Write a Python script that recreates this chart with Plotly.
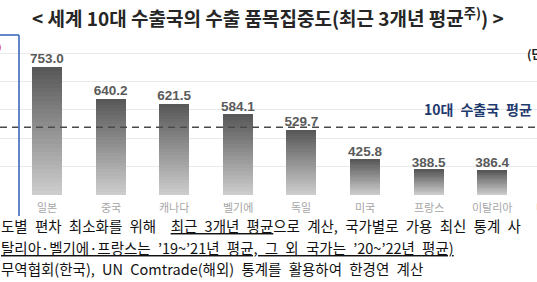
import plotly.graph_objects as go

# ---- data ----
countries = ['일본', '중국', '캐나다', '벨기에', '독일', '미국', '프랑스', '이탈리아']
values = [753.0, 640.2, 621.5, 584.1, 529.7, 425.8, 388.5, 386.4]
value_labels = ['753.0', '640.2', '621.5', '584.1', '529.7', '425.8', '388.5', '386.4']
offscreen_country = '네덜란드'
avg_value = 539.0
axis_base = 300
title_text = '&lt; 세계 10대 수출국의 수출 품목집중도(최근 3개년 평균<sup>주)</sup>) &gt;'
avg_label = '10대 수출국 평균'
unit_text = '(단위: 개)'
# footnote lines as (text, underlined) segments
note_lines = [
    [('도별 편차 최소화를 위해  ', False), ('최근 3개년 평균', True), ('으로 계산, 국가별로 가용 최신 통계 사', False)],
    [('탈리아·벨기에·프랑스는 ’19~’21년 평균, 그 외 국가는 ’20~’22년 평균)', True)],
    [('무역협회(한국), UN Comtrade(해외) 통계를 활용하여 한경연 계산', False)],
]

W, H = 537, 282
M_T, M_B, M_L, M_R = 39, 87, 0, 0
PH = H - M_T - M_B


def px(x):
    return (x - M_L) / (W - M_L - M_R)


def py(y):
    return (H - M_B - y) / PH


def wide(s):
    # render word gaps with en spaces (the source uses wide word spacing)
    return s.replace(' ', '\u2002')


def build_line(segs):
    out = []
    for s, u in segs:
        s = wide(s)
        out.append('<span style="text-decoration:underline">%s</span>' % s if u else s)
    return ''.join(out)


fig = go.Figure()

# gradient bars built from stacked slices (light bottom -> dark top)
N = 30
light = (204, 204, 204)
dark = (88, 88, 88)
for k in range(N):
    t = k / (N - 1)
    c = tuple(int(round(light[i] + (dark[i] - light[i]) * t)) for i in range(3))
    bases = [axis_base + (v - axis_base) * k / N for v in values]
    heights = [v - b for v, b in zip(values, bases)]
    fig.add_trace(go.Bar(
        x=countries, y=heights, base=bases, width=0.47,
        marker=dict(color='rgb(%d,%d,%d)' % c, line=dict(width=0)),
        hoverinfo='skip', showlegend=False,
    ))

fig.add_trace(go.Scatter(
    x=countries, y=values, mode='text', text=value_labels,
    textposition='top center',
    textfont=dict(family='Liberation Sans, Arial', size=13.5, color='#5a5a5a', weight='bold'),
    cliponaxis=False, showlegend=False, hoverinfo='skip',
))

fig.update_layout(
    width=W, height=H,
    margin=dict(t=M_T, b=M_B, l=M_L, r=M_R, pad=0),
    paper_bgcolor='white', plot_bgcolor='white',
    barmode='overlay', bargap=0,
    font=dict(family='Noto Sans CJK KR'),
    xaxis=dict(
        type='category', categoryarray=countries, range=[-0.739, 7.704],
        showgrid=False, zeroline=False, showline=False, ticks='',
        showticklabels=False,
    ),
    yaxis=dict(
        range=[axis_base, 850], dtick=100, tick0=axis_base,
        showgrid=True, gridcolor='#e9e9e9', gridwidth=1,
        zeroline=False, showline=False, showticklabels=False, ticks='',
    ),
)

# average dashed line
fig.add_shape(type='line', xref='paper', x0=0, x1=1, yref='y', y0=avg_value, y1=avg_value,
              line=dict(color='#4a4a4a', width=1.5, dash='7px,5px'), layer='above')

# Korea highlight box edge (cut off on left)
fig.add_shape(type='line', xref='paper', yref='paper', x0=px(19), x1=px(19), y0=py(35), y1=py(216),
              line=dict(color='#4f7ac7', width=1.8))
fig.add_shape(type='line', xref='paper', yref='paper', x0=px(-2), x1=px(19), y0=py(35), y1=py(35),
              line=dict(color='#4f7ac7', width=1.8))

ann = []
# category labels under the bars
for c in countries:
    ann.append(dict(xref='x', yref='paper', x=c, y=py(207), text=c, showarrow=False,
                    xanchor='center', yanchor='middle',
                    font=dict(size=11, color='#a6a6a6', family='Noto Sans CJK KR')))
ann.append(dict(xref='paper', yref='paper', x=px(556), y=py(207), text=offscreen_country, showarrow=False,
                xanchor='center', yanchor='middle',
                font=dict(size=11, color='#a6a6a6', family='Noto Sans CJK KR')))
ann.append(dict(xref='paper', yref='paper', x=px(268), y=py(17), text=title_text, showarrow=False,
                xanchor='center', yanchor='middle',
                font=dict(size=19, color='#262626', family='Noto Sans CJK KR', weight='bold')))
ann.append(dict(xref='paper', yref='y', x=px(422), y=avg_value, text=wide(avg_label), showarrow=False,
                xanchor='left', yanchor='bottom', yshift=6,
                font=dict(size=14, color='#1f3a6e', family='Noto Sans CJK KR', weight='bold')))
ann.append(dict(xref='paper', yref='paper', x=px(525), y=py(53), text=unit_text, showarrow=False,
                xanchor='left', yanchor='middle',
                font=dict(size=12, color='#222222', family='Noto Sans CJK KR', weight='bold')))
ann.append(dict(xref='paper', yref='paper', x=px(3), y=py(47), text='0', showarrow=False,
                xanchor='right', yanchor='middle',
                font=dict(size=13, color='#e03030', family='Liberation Sans', weight='bold')))
for segs, yy in zip(note_lines, [225, 247, 268]):
    ann.append(dict(xref='paper', yref='paper', x=px(-1), y=py(yy), text=build_line(segs), showarrow=False,
                    xanchor='left', yanchor='middle', align='left',
                    font=dict(size=14.5, color='#111111', family='Noto Sans CJK KR')))
fig.update_layout(annotations=ann)

fig.write_html('out.html')
